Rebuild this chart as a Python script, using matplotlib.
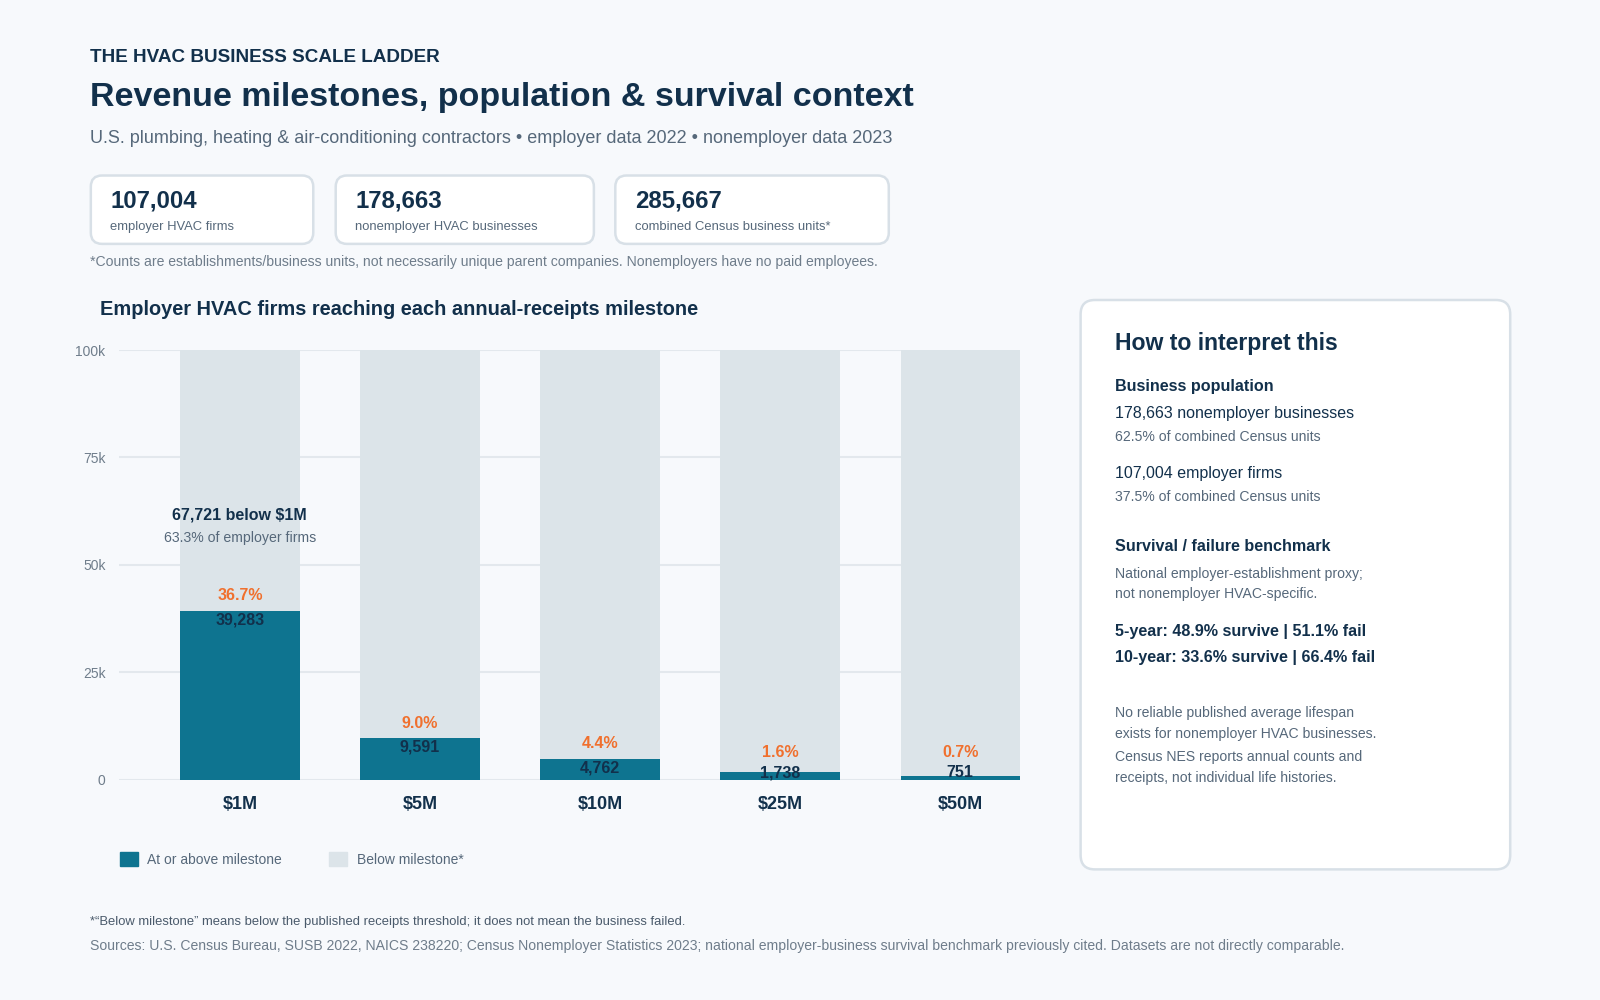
import matplotlib
matplotlib.use("Agg")
import matplotlib.pyplot as plt
from matplotlib.patches import FancyBboxPatch, Patch

plt.rcParams['font.family'] = ['Liberation Sans', 'DejaVu Sans']

# ---------------- data ----------------
milestones = ["$1M", "$5M", "$10M", "$25M", "$50M"]
at_or_above = [39283, 9591, 4762, 1738, 751]
pct_labels = ["36.7%", "9.0%", "4.4%", "1.6%", "0.7%"]
employer_total = 107004
nonemployer_total = 178663
combined_total = 285667
below_1m = 67721
below_1m_share = "63.3%"
y_ticks = [0, 25000, 50000, 75000, 100000]
y_tick_labels = ["0", "25k", "50k", "75k", "100k"]

kpi_values = ["107,004", "178,663", "285,667"]
kpi_labels = ["employer HVAC firms", "nonemployer HVAC businesses", "combined Census business units*"]

# ---------------- colors ----------------
BG = "#f7f9fc"
NAVY = "#12304b"
GREY = "#56687a"
LGREY = "#6f7d8b"
TEAL = "#0e7490"
BARGREY = "#dce4e9"
ORANGE = "#f0702e"
BORDER = "#d8e0e7"
GRID = "#e3e8ed"

W, H = 1568.0, 980.0
fig = plt.figure(figsize=(16, 10), dpi=100, facecolor=BG)

# overlay axes in reference pixel coordinates
ov = fig.add_axes([0, 0, 1, 1])
ov.set_xlim(0, W)
ov.set_ylim(H, 0)
ov.axis("off")
ov.patch.set_alpha(0)

def T(x, y, s, size, color=NAVY, weight="normal", **kw):
    ov.text(x, y + 1.5, s, fontsize=size, color=color, fontweight=weight,
            va="center", ha=kw.pop("ha", "left"), **kw)

# header
T(88, 55, "THE HVAC BUSINESS SCALE LADDER", 13.6, NAVY, "bold")
T(88, 94.5, "Revenue milestones, population & survival context", 24.5, NAVY, "bold")
T(88, 134, "U.S. plumbing, heating & air-conditioning contractors \u2022 employer data 2022 \u2022 nonemployer data 2023",
  12.95, GREY)

# KPI cards
cards = [(88, 308), (328, 583), (602, 872)]
for (x0, x1), v, lab in zip(cards, kpi_values, kpi_labels):
    ov.add_patch(FancyBboxPatch((x0 + 1, 172), x1 - x0 - 2, 67,
                                boxstyle="round,pad=0,rounding_size=11",
                                fc="white", ec=BORDER, lw=1.8))
    T(x0 + 20, 195, v, 17.3, NAVY, "bold")
    T(x0 + 20, 221, lab, 9.4, GREY)

T(88, 255, "*Counts are establishments/business units, not necessarily unique parent companies. Nonemployers have no paid employees.",
  10.08, LGREY)

# chart title
T(98, 302, "Employer HVAC firms reaching each annual-receipts milestone", 14.45, NAVY, "bold")

# right panel
ov.add_patch(FancyBboxPatch((1059, 294), 421, 558,
                            boxstyle="round,pad=0,rounding_size=14",
                            fc="white", ec=BORDER, lw=1.8))
px = 1093
T(px, 335, "How to interpret this", 16.6, NAVY, "bold")
T(px, 377, "Business population", 11.6, NAVY, "bold")
T(px, 404, "178,663 nonemployer businesses", 11.55, NAVY)
T(px, 427, "62.5% of combined Census units", 10.1, GREY)
T(px, 463, "107,004 employer firms", 11.55, NAVY)
T(px, 486, "37.5% of combined Census units", 10.1, GREY)
T(px, 534, "Survival / failure benchmark", 11.6, NAVY, "bold")
T(px, 561, "National employer-establishment proxy;", 10.1, GREY)
T(px, 581, "not nonemployer HVAC-specific.", 10.1, GREY)
T(px, 617, "5-year: 48.9% survive | 51.1% fail", 11.6, NAVY, "bold")
T(px, 643, "10-year: 33.6% survive | 66.4% fail", 11.6, NAVY, "bold")
T(px, 697, "No reliable published average lifespan", 10.1, GREY)
T(px, 718, "exists for nonemployer HVAC businesses.", 10.1, GREY)
T(px, 740, "Census NES reports annual counts and", 10.1, GREY)
T(px, 761, "receipts, not individual life histories.", 10.1, GREY)

# footer
T(88, 902, "*\u201cBelow milestone\u201d means below the published receipts threshold; it does not mean the business failed.",
  9.34, "#4a5a6b")
T(88, 926, "Sources: U.S. Census Bureau, SUSB 2022, NAICS 238220; Census Nonemployer Statistics 2023; national employer-business survival benchmark previously cited. Datasets are not directly comparable.",
  10.05, LGREY)

# ---------------- bar chart ----------------
left, right = 117 / W, 1000 / W
bottom, top = 1 - 764 / H, 1 - 343 / H
ax = fig.add_axes([left, bottom, right - left, top - bottom])
ax.patch.set_alpha(0)

xs = list(range(len(milestones)))
below = [employer_total - v for v in at_or_above]
bw = 0.663
ax.bar(xs, at_or_above, width=bw, color=TEAL, zorder=2, label="At or above milestone")
ax.bar(xs, below, bottom=at_or_above, width=bw, color=BARGREY, zorder=2, label="Below milestone*")

ax.set_xlim(-0.669, 4.334)
ax.set_ylim(0, 100000)
ax.set_yticks(y_ticks)
ax.set_yticklabels(y_tick_labels)
ax.set_xticks(xs)
ax.set_xticklabels(milestones)
for s in ax.spines.values():
    s.set_visible(False)
ax.tick_params(axis="y", length=0, pad=10, labelsize=10, labelcolor=LGREY)
ax.tick_params(axis="x", length=0, pad=12, labelsize=13)
for t in ax.get_xticklabels():
    t.set_fontweight("bold")
    t.set_color(NAVY)
ax.grid(axis="y", color=GRID, lw=1.5, zorder=0)
ax.set_axisbelow(True)

for x, v, pct in zip(xs, at_or_above, pct_labels):
    ax.annotate(f"{v:,}", (x, max(v, 3700)), xytext=(0, -6.5), textcoords="offset points",
                ha="center", va="center", fontsize=11.5, fontweight="bold", color=NAVY, zorder=4)
    ax.annotate(pct, (x, max(v, 2800)), xytext=(0, 11), textcoords="offset points",
                ha="center", va="center", fontsize=11.5, fontweight="bold", color=ORANGE, zorder=4)

ax.text(0, 61700, f"{below_1m:,} below $1M", ha="center", va="center",
        fontsize=11.5, fontweight="bold", color=NAVY, zorder=4)
ax.text(0, 56300, f"{below_1m_share} of employer firms", ha="center", va="center",
        fontsize=10.2, color=GREY, zorder=4)

handles = [Patch(color=TEAL), Patch(color=BARGREY)]
fig.legend(handles, ["At or above milestone", "Below milestone*"], loc="center left",
           bbox_to_anchor=(118 / W, 1 - 842 / H), ncol=2, frameon=False,
           fontsize=10, labelcolor=GREY, handlelength=1.25, handleheight=1.25,
           handletextpad=0.7, columnspacing=3.4, borderpad=0, borderaxespad=0)

fig.savefig("out.png", dpi=100, facecolor=BG)
